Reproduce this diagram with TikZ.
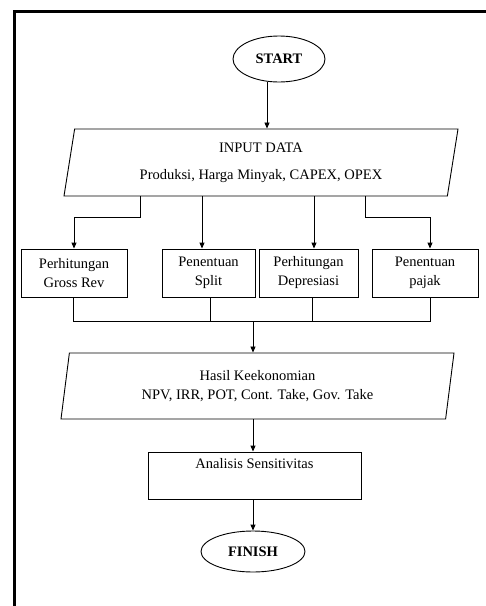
\documentclass[tikz,border=0pt]{standalone}
\usepackage{fontspec}
\setmainfont{Liberation Serif}
\usetikzlibrary{shapes.geometric,arrows.meta}

\begin{document}
\begin{tikzpicture}
        [x=1pt,y=-1pt,line width=0.9pt,font=\fontsize{14.5}{19}\selectfont,
        term/.style={ellipse,draw,inner sep=0pt,font=\fontsize{14.5}{19}\selectfont\bfseries},
        io/.style={trapezium,trapezium left angle=75,trapezium right angle=105,trapezium stretches body,draw,align=center,inner sep=0pt},
        proc/.style={rectangle,draw,align=center,inner sep=0pt},
        arr/.style={-{Triangle[length=6pt,width=5pt]}}]
        \useasboundingbox (0,0) rectangle (486,606);
        % frame
        \draw[line width=2.5pt] (14.5,606) -- (14.5,11.5) -- (486,11.5);

        % start, input
        \node[term,minimum width=92pt,minimum height=46pt]   (start)    at (279,59)      {START};
        \node[io,minimum width=394pt,minimum height=67pt]    (input)    at (261,162.5)   {INPUT DATA\\[8pt]Produksi, Harga Minyak, CAPEX, OPEX};

        % calculations
        \node[proc,minimum width=106pt,minimum height=48pt]  (gross)    at (74,273)      {Perhitungan\\Gross Rev};
        \node[proc,minimum width=93pt,minimum height=48pt]   (split)    at (208.5,273)   {Penentuan\\Split};
        \node[proc,minimum width=99pt,minimum height=48pt]   (depr)     at (308.5,273)   {Perhitungan\\Depresiasi};
        \node[proc,minimum width=106pt,minimum height=48pt]  (pajak)    at (425,273)     {Penentuan\\pajak};

        % results
        \node[io,minimum width=393pt,minimum height=66pt]    (hasil)    at (257.5,386)   {Hasil Keekonomian\\NPV, IRR, POT, Cont. Take, Gov. Take};
        \node[proc,minimum width=213pt,minimum height=47pt]  (analisis) at (254.5,475.5) {Analisis Sensitivitas\\ \strut};
        \node[term,minimum width=104pt,minimum height=41pt]  (finish)   at (253,551.5)   {FINISH};

        % connector columns
        \coordinate (a0) at (267,0);
        \coordinate (k1) at (140,217);
        \coordinate (a2) at (202,0);
        \coordinate (a3) at (314,0);
        \coordinate (k4) at (365,217);
        \coordinate (a4) at (430,0);
        \coordinate (b1) at (73,321);
        \coordinate (b4) at (430,321);
        \coordinate (d2) at (210,0);
        \coordinate (d3) at (312,0);
        \coordinate (m)  at (253,321);

        \draw[arr] (start.south -| a0) -- (input.north -| a0);
        \draw[arr] (input.south -| k1) -- (k1) -| (gross);
        \draw[arr] (input.south -| a2) -- (split.north -| a2);
        \draw[arr] (input.south -| a3) -- (depr.north -| a3);
        \draw[arr] (input.south -| k4) -- (k4) -| (pajak.north -| a4);

        \draw (gross.south -| b1) -- (b1) -- (b4) -- (pajak.south -| b4);
        \draw (split.south -| d2) -- (d2 |- m);
        \draw (depr.south -| d3) -- (d3 |- m);
        \draw[arr] (m) -- (hasil.north -| m);
        \draw[arr] (hasil.south -| m) -- (analisis.north -| m);
        \draw[arr] (analisis.south -| m) -- (finish);
\end{tikzpicture}
\end{document}
